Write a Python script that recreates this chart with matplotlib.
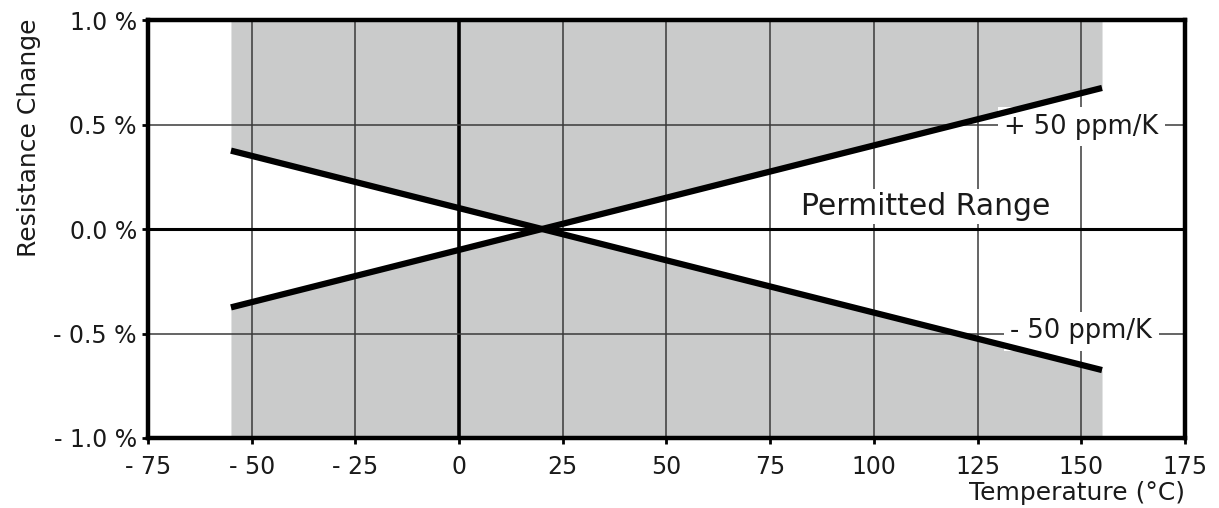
"""Resistance change vs temperature, +/- 50 ppm/K window around 20 degC."""

import matplotlib
matplotlib.use("Agg")
import matplotlib.pyplot as plt
import numpy as np

# ---------------------------------------------------------------------------
# Data
# ---------------------------------------------------------------------------
temps = [-55, 20, 155]                 # degC, ends of the permitted range + reference point
plus_50ppm = [-0.375, 0.0, 0.675]      # % change for +50 ppm/K
minus_50ppm = [0.375, 0.0, -0.675]     # % change for -50 ppm/K

x_ticks = [-75, -50, -25, 0, 25, 50, 75, 100, 125, 150, 175]
x_tick_labels = ["- 75", "- 50", "- 25", "0", "25", "50", "75", "100", "125", "150", "175"]
y_ticks = [-1.0, -0.5, 0.0, 0.5, 1.0]
y_tick_labels = ["- 1.0 %", "- 0.5 %", "0.0 %", "0.5 %", "1.0 %"]

FILL = "#cacbcb"
GRID = "#3a3a3a"
INK = "#1a1a1a"

plt.rcParams["font.family"] = ["DejaVu Sans"]

fig = plt.figure(figsize=(12.19, 5.08), dpi=100)
ax = fig.add_axes([0.1214, 0.1378, 0.8507, 0.8228])
ax.set_xlim(-75, 175)
ax.set_ylim(-1.0, 1.0)

lo = np.minimum(plus_50ppm, minus_50ppm)
hi = np.maximum(plus_50ppm, minus_50ppm)
ax.fill_between(temps, -1.0, lo, color=FILL, lw=0, zorder=1)
ax.fill_between(temps, hi, 1.0, color=FILL, lw=0, zorder=1)

# grid (0 lines drawn heavier)
for xt in x_ticks[1:-1]:
    if xt == 0:
        ax.axvline(xt, color="black", lw=2.6, zorder=2)
    else:
        ax.axvline(xt, color=GRID, lw=1.1, zorder=2)
for yt in y_ticks[1:-1]:
    if yt == 0:
        ax.axhline(yt, color="black", lw=2.2, zorder=2)
    else:
        ax.axhline(yt, color=GRID, lw=1.1, zorder=2)

ax.plot(temps, plus_50ppm, color="black", lw=4.5, solid_capstyle="butt", zorder=5)
ax.plot(temps, minus_50ppm, color="black", lw=4.5, solid_capstyle="butt", zorder=5)

box = dict(boxstyle="square,pad=0.25", fc="white", ec="none")
ax.text(150, 0.49, "+ 50 ppm/K", fontsize=18.5, ha="center", va="center",
        color=INK, bbox=box, zorder=3)
ax.text(150, -0.49, "- 50 ppm/K", fontsize=18.5, ha="center", va="center",
        color=INK, bbox=box, zorder=3)
ax.text(112.5, 0.11, "Permitted Range", fontsize=21.5, ha="center", va="center",
        color=INK, bbox=dict(boxstyle="square,pad=0.1", fc="white", ec="none"),
        zorder=3)

ax.set_xticks(x_ticks)
ax.set_xticklabels(x_tick_labels)
ax.set_yticks(y_ticks)
ax.set_yticklabels(y_tick_labels)
ax.tick_params(axis="both", direction="out", length=4, width=2, labelsize=17,
               labelcolor=INK)
ax.tick_params(axis="x", pad=8.5)
ax.tick_params(axis="y", pad=4)

for sp in ax.spines.values():
    sp.set_linewidth(3.2)
    sp.set_zorder(6)

ax.set_xlabel("Temperature (°C)", fontsize=18, loc="right", color=INK)
ax.xaxis.set_label_coords(1.0, -0.103)
ax.set_ylabel("Resistance Change", fontsize=18, color=INK)
ax.yaxis.set_label_coords(-0.103, 0.718)

fig.savefig("out.png", dpi=100)
